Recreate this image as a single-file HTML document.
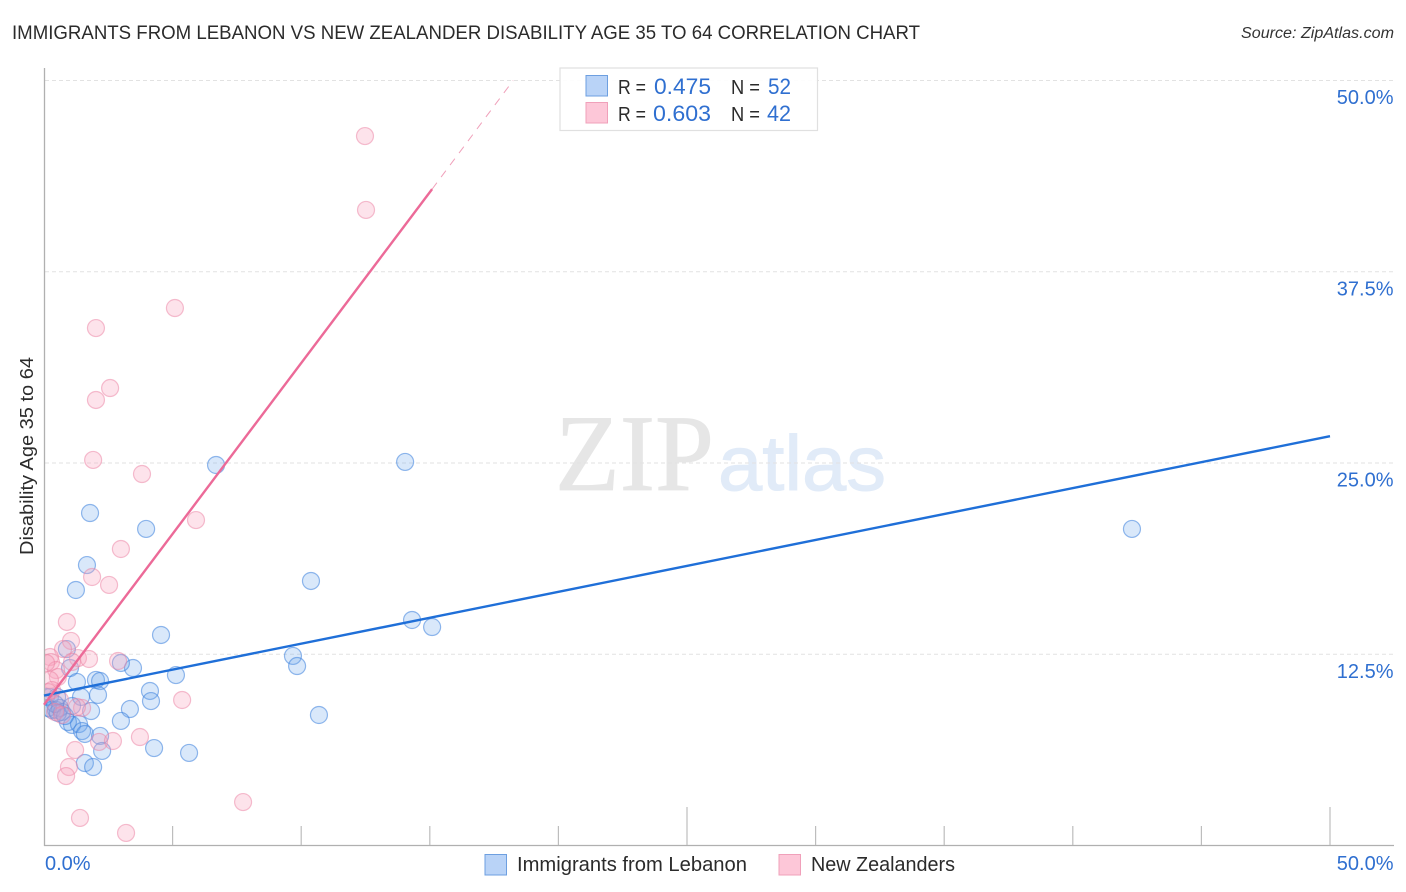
<!DOCTYPE html>
<html lang="en">
<head>
<meta charset="utf-8">
<title>Immigrants from Lebanon vs New Zealander Disability Age 35 to 64 Correlation Chart</title>
<style>
html,body{margin:0;padding:0;background:#fff;width:1406px;height:892px;overflow:hidden}
svg{display:block;font-family:"Liberation Sans",sans-serif}
</style>
</head>
<body>
<svg id="chart" width="1406" height="892" viewBox="0 0 1406 892" xmlns="http://www.w3.org/2000/svg">
  <defs><clipPath id="plot-clip"><rect x="45" y="60" width="1350" height="785"/></clipPath></defs>
  <text x="12" y="39" font-size="19.5" fill="#2b2b2b" textLength="908" lengthAdjust="spacingAndGlyphs">IMMIGRANTS FROM LEBANON VS NEW ZEALANDER DISABILITY AGE 35 TO 64 CORRELATION CHART</text>
  <text x="1241" y="38" font-size="15.5" font-style="italic" fill="#333" textLength="153" lengthAdjust="spacingAndGlyphs">Source: ZipAtlas.com</text>
  <g>
    <text x="555" y="490" font-family="'Liberation Serif',serif" font-size="109" fill="#e6e6e6" stroke="#e6e6e6" stroke-width="0.8" textLength="159" lengthAdjust="spacingAndGlyphs">ZIP</text>
    <text x="718" y="490" font-size="78" fill="#e1ebf8" stroke="#e1ebf8" stroke-width="1" textLength="168" lengthAdjust="spacingAndGlyphs">atlas</text>
  </g>
  <g id="grid"></g>
  <g id="axes">
    <line x1="44.5" y1="68" x2="44.5" y2="846" stroke="#b0b0b0" stroke-width="1.3"/>
    <line x1="44" y1="845.5" x2="1394" y2="845.5" stroke="#b0b0b0" stroke-width="1.3"/>
  </g>
  <g id="x-ticks"></g>
  <g id="tick-labels"></g>
  <g id="points" clip-path="url(#plot-clip)"></g>
  <g id="trends"></g>
  <g>
    <rect x="560" y="68" width="257.500" height="62.500" fill="#fff" fill-opacity="0.92" stroke="#e0e0e0" stroke-width="1.2"/>
    <rect x="586" y="75.500" width="21.500" height="20.500" fill="#b9d3f7" stroke="#6d9fe0" stroke-width="1"/>
    <rect x="586" y="102.500" width="21.500" height="20.500" fill="#fdc7d8" stroke="#f0a0ba" stroke-width="1"/>
    <text x="618" y="94" font-size="20" fill="#2b2b2b" textLength="28" lengthAdjust="spacingAndGlyphs">R =</text>
    <text x="654" y="94" font-size="22" fill="#2f6fd0" textLength="57" lengthAdjust="spacingAndGlyphs">0.475</text>
    <text x="731" y="94" font-size="20" fill="#2b2b2b" textLength="29" lengthAdjust="spacingAndGlyphs">N =</text>
    <text x="768" y="94" font-size="22" fill="#2f6fd0" textLength="23" lengthAdjust="spacingAndGlyphs">52</text>
    <text x="618" y="121" font-size="20" fill="#2b2b2b" textLength="28" lengthAdjust="spacingAndGlyphs">R =</text>
    <text x="653" y="121" font-size="22" fill="#2f6fd0" textLength="58" lengthAdjust="spacingAndGlyphs">0.603</text>
    <text x="731" y="121" font-size="20" fill="#2b2b2b" textLength="29" lengthAdjust="spacingAndGlyphs">N =</text>
    <text x="767" y="121" font-size="22" fill="#2f6fd0" textLength="24" lengthAdjust="spacingAndGlyphs">42</text>
  </g>
  <text transform="translate(33,456) rotate(-90)" text-anchor="middle" font-size="18" fill="#2b2b2b" textLength="198" lengthAdjust="spacingAndGlyphs">Disability Age 35 to 64</text>
  <g>
    <rect x="485" y="854.500" width="21.500" height="20.500" fill="#b9d3f7" stroke="#6d9fe0" stroke-width="1"/>
    <text x="517" y="871" font-size="20" fill="#2b2b2b" textLength="230" lengthAdjust="spacingAndGlyphs">Immigrants from Lebanon</text>
    <rect x="779" y="854.500" width="21.500" height="20.500" fill="#fdc7d8" stroke="#f0a0ba" stroke-width="1"/>
    <text x="811" y="871" font-size="20" fill="#2b2b2b" textLength="144" lengthAdjust="spacingAndGlyphs">New Zealanders</text>
  </g>
</svg>
<script>
const lebanonX = [6.69,14.04,42.30,1.79,3.97,1.67,1.24,10.38,14.31,15.09,4.55,0.89,9.68,9.84,1.01,3.46,2.99,5.13,1.28,2.02,2.18,4.12,4.16,2.10,1.44,10.69,3.34,2.99,1.83,1.09,0.93,1.36,1.48,1.59,2.18,2.26,4.28,5.64,1.59,1.91,0.08,0.23,0.51,0.31,0.16,0.47,0.62,0.70,1.09,0.43,0.54,0.82];
const lebanonY = [24.87,25.07,20.69,21.73,20.69,18.33,16.70,17.29,14.74,14.28,13.76,12.84,12.39,11.73,11.60,11.60,11.93,11.14,10.69,10.82,10.75,10.10,9.44,9.84,9.71,8.53,8.92,8.14,8.79,7.88,8.07,7.94,7.48,7.29,7.16,6.18,6.37,6.05,5.39,5.13,9.71,9.71,9.71,8.86,8.99,8.86,8.99,8.73,9.12,9.25,8.66,8.46];
const zealandX = [12.48,12.52,5.09,2.02,2.57,2.02,1.91,3.81,5.91,2.99,1.87,2.53,0.89,1.05,0.74,0.23,0.27,1.32,1.75,2.88,0.47,1.09,0.54,0.23,0.31,5.37,1.48,1.28,0.62,0.43,1.21,2.14,2.68,3.73,0.97,0.86,7.74,1.40,3.19,0.16,0.70,0.08];
const zealandY = [46.37,41.54,35.13,33.82,29.90,29.12,25.20,24.28,21.27,19.38,17.55,17.03,14.61,13.37,12.84,12.32,11.99,12.25,12.19,12.06,11.47,12.00,11.01,10.82,10.16,9.51,8.99,9.05,9.51,8.73,6.24,6.77,6.83,7.09,5.13,4.54,2.84,1.80,0.82,10.03,8.53,11.93];
const lebanonTrendX = [0, 50];
const lebanonTrendY = [9.8, 26.75];
const zealandTrendX = [0, 15.09];
const zealandTrendY = [9.2, 42.9];
const zealandExtensionX = [15.09, 18.24];
const zealandExtensionY = [42.9, 50];
const yTickValues = [12.5, 25, 37.5, 50];
const yTickLabels = ["12.5%", "25.0%", "37.5%", "50.0%"];
const xTickValues = [5, 10, 15, 20, 25, 30, 35, 40, 45, 50];
const xAxisLabelValues = [0, 50];
const xAxisLabels = ["0.0%", "50.0%"];

const NS = "http://www.w3.org/2000/svg";
const xScale = v => 44 + v * 25.72;
const yScale = v => 845.5 - v * 15.3;
const make = (tag, parent) => { const el = document.createElementNS(NS, tag); document.getElementById(parent).appendChild(el); return el; };

yTickValues.forEach((v, i) => {
  const g = make("line", "grid");
  
  
  g.setAttribute("x1", 45); g.setAttribute("x2", 1394);
  g.setAttribute("y1", yScale(v)); g.setAttribute("y2", yScale(v));
  g.setAttribute("stroke", "#e2e2e2"); g.setAttribute("stroke-width", 1); g.setAttribute("stroke-dasharray", "4 3");
  const t = make("text", "tick-labels");
  
  
  t.setAttribute("x", 1393.5); t.setAttribute("y", yScale(v) + 23.5);
  t.setAttribute("text-anchor", "end"); t.setAttribute("font-size", 20); t.setAttribute("fill", "#2f6fd0");
  t.textContent = yTickLabels[i];
});

xTickValues.forEach(v => {
  const tick = make("line", "x-ticks");
  
  
  tick.setAttribute("x1", xScale(v)); tick.setAttribute("x2", xScale(v));
  tick.setAttribute("y1", 845); tick.setAttribute("y2", v % 25 === 0 ? 807 : 826);
  tick.setAttribute("stroke", "#bdbdbd"); tick.setAttribute("stroke-width", 1.2);
});

xAxisLabelValues.forEach((v, i) => {
  const t = make("text", "tick-labels");
  
  
  t.setAttribute("x", i === 0 ? xScale(v) + 1 : 1393.5); t.setAttribute("y", 870);
  t.setAttribute("text-anchor", i === 0 ? "start" : "end"); t.setAttribute("font-size", 20); t.setAttribute("fill", "#2f6fd0");
  t.textContent = xAxisLabels[i];
});

lebanonX.forEach((v, i) => {
  const c = make("circle", "points");
  
  
  c.setAttribute("cx", xScale(v)); c.setAttribute("cy", yScale(lebanonY[i])); c.setAttribute("r", 8.5);
  c.setAttribute("fill", "#6ea8ec"); c.setAttribute("fill-opacity", 0.26);
  c.setAttribute("stroke", "#3b7fdc"); c.setAttribute("stroke-opacity", 0.55); c.setAttribute("stroke-width", 1.2);
});

zealandX.forEach((v, i) => {
  const c = make("circle", "points");
  
  
  c.setAttribute("cx", xScale(v)); c.setAttribute("cy", yScale(zealandY[i])); c.setAttribute("r", 8.5);
  c.setAttribute("fill", "#f7a3bd"); c.setAttribute("fill-opacity", 0.3);
  c.setAttribute("stroke", "#ec7fa2"); c.setAttribute("stroke-opacity", 0.5); c.setAttribute("stroke-width", 1.2);
});

const blueTrend = make("line", "trends");


blueTrend.setAttribute("x1", xScale(lebanonTrendX[0])); blueTrend.setAttribute("y1", yScale(lebanonTrendY[0]));
blueTrend.setAttribute("x2", xScale(lebanonTrendX[1])); blueTrend.setAttribute("y2", yScale(lebanonTrendY[1]));
blueTrend.setAttribute("stroke", "#1f6fd8"); blueTrend.setAttribute("stroke-width", 2.4);

const pinkTrend = make("line", "trends");


pinkTrend.setAttribute("x1", xScale(zealandTrendX[0])); pinkTrend.setAttribute("y1", yScale(zealandTrendY[0]));
pinkTrend.setAttribute("x2", xScale(zealandTrendX[1])); pinkTrend.setAttribute("y2", yScale(zealandTrendY[1]));
pinkTrend.setAttribute("stroke", "#ec6a98"); pinkTrend.setAttribute("stroke-width", 2.4);

const pinkExtension = make("line", "trends");


pinkExtension.setAttribute("x1", xScale(zealandExtensionX[0])); pinkExtension.setAttribute("y1", yScale(zealandExtensionY[0]));
pinkExtension.setAttribute("x2", xScale(zealandExtensionX[1])); pinkExtension.setAttribute("y2", yScale(zealandExtensionY[1]));
pinkExtension.setAttribute("stroke", "#f0a0ba"); pinkExtension.setAttribute("stroke-width", 1); pinkExtension.setAttribute("stroke-dasharray", "8 7");
</script>
</body>
</html>
